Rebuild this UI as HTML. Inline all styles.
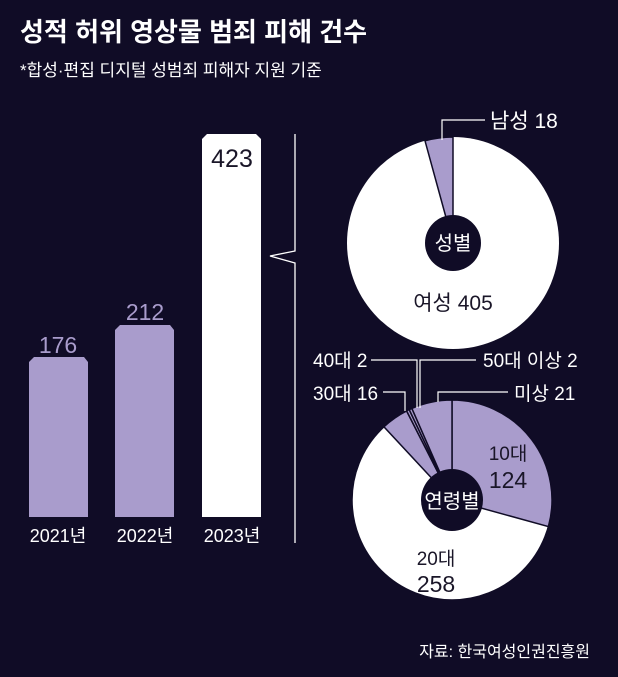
<!DOCTYPE html>
<html><head><meta charset="utf-8"><style>
html,body{margin:0;padding:0;background:#100c26;}
svg{display:block;font-family:"Liberation Sans","Noto Sans CJK KR",sans-serif;}
</style></head><body>
<svg width="618" height="677" viewBox="0 0 618 677" xmlns="http://www.w3.org/2000/svg">
<rect width="618" height="677" fill="#100c26"/>
<text x="20" y="41" font-size="26" font-weight="bold" fill="#fff">성적 허위 영상물 범죄 피해 건수</text>
<text x="20" y="76" font-size="17" fill="#fff">*합성·편집 디지털 성범죄 피해자 지원 기준</text>

<path d="M29,517 V362 L34,357 H84 L88,362 V517 Z" fill="#a99ccc"/>
<path d="M115,517 V330 L120,325 H170 L174,330 V517 Z" fill="#a99ccc"/>
<path d="M202,517 V139 L207,134 H256 L261,139 V517 Z" fill="#fff"/>
<text x="58" y="353" font-size="23" fill="#a99ccc" text-anchor="middle">176</text>
<text x="145" y="320" font-size="23" fill="#a99ccc" text-anchor="middle">212</text>
<text x="232" y="167" font-size="25" fill="#1a1628" text-anchor="middle">423</text>
<text x="58" y="542" font-size="18" fill="#fff" text-anchor="middle">2021년</text>
<text x="145" y="542" font-size="18" fill="#fff" text-anchor="middle">2022년</text>
<text x="232" y="542" font-size="18" fill="#fff" text-anchor="middle">2023년</text>
<path d="M295,134 V251 L270,256 L295,263 V543" fill="none" stroke="#fff" stroke-width="1.3"/>

<circle cx="453" cy="243" r="106" fill="#fff"/>
<path d="M453,243 L453,137 A106,106 0 0 0 425,140.8 Z" fill="#a99ccc" stroke="#100c26" stroke-width="1.5"/>
<circle cx="453" cy="243" r="28" fill="#100c26"/>
<text x="453" y="250" font-size="20" fill="#fff" text-anchor="middle">성별</text>
<text x="453" y="310" font-size="21" fill="#1a1628" text-anchor="middle">여성 405</text>
<path d="M442,140 V120 H485" fill="none" stroke="#fff" stroke-width="1.2"/>
<text x="490" y="128" font-size="21" fill="#fff">남성 18</text>

<g stroke="#100c26" stroke-width="1.5">
<circle cx="452" cy="500" r="100" fill="#fff"/>
<path d="M452,500 L452,400 A100,100 0 0 1 548.4,526.6 Z" fill="#a99ccc"/>
<path d="M452,500 L383.9,426.8 A100,100 0 0 1 406.6,410.9 Z" fill="#a99ccc"/>
<path d="M452,500 L406.6,410.9 A100,100 0 0 1 409.2,409.6 Z" fill="#a99ccc"/>
<path d="M452,500 L409.2,409.6 A100,100 0 0 1 411.9,408.4 Z" fill="#a99ccc"/>
<path d="M452,500 L411.9,408.4 A100,100 0 0 1 452,400 Z" fill="#a99ccc"/>
</g>
<circle cx="452" cy="500" r="31" fill="#100c26"/>
<text x="452" y="508" font-size="20" fill="#fff" text-anchor="middle">연령별</text>
<text x="508" y="460" font-size="19" fill="#1a1628" text-anchor="middle">10대</text>
<text x="508" y="488" font-size="23" fill="#1a1628" text-anchor="middle">124</text>
<text x="436" y="565" font-size="19" fill="#1a1628" text-anchor="middle">20대</text>
<text x="436" y="592" font-size="23" fill="#1a1628" text-anchor="middle">258</text>
<g fill="none" stroke="#fff" stroke-width="1.2">
<path d="M371,360 H417 V408"/>
<path d="M476,360 H420 V408"/>
<path d="M383,392 H405 V411"/>
<path d="M508,392 H438 V402"/>
</g>
<g font-size="19" fill="#fff">
<text x="313" y="367">40대 2</text>
<text x="483" y="367">50대 이상 2</text>
<text x="313" y="400">30대 16</text>
<text x="514" y="400">미상 21</text>
</g>
<text x="590" y="657" font-size="16" fill="#fff" text-anchor="end">자료: 한국여성인권진흥원</text>
</svg>
</body></html>
